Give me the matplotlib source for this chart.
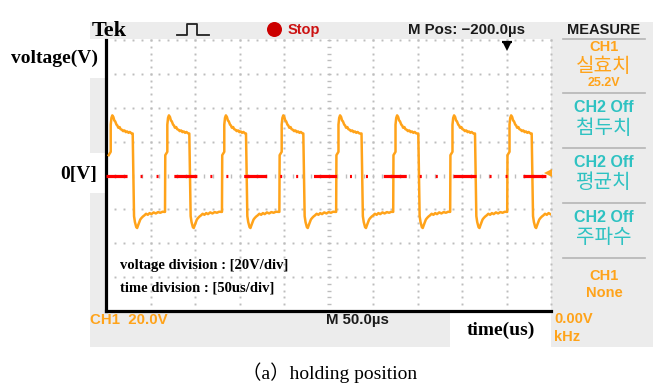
import numpy as np
import matplotlib
matplotlib.use('Agg')
import matplotlib.pyplot as plt
from matplotlib.patches import Rectangle, Circle

plt.rcParams['lines.scale_dashes'] = False

# ---------------- data read from the screen ----------------
# edge times of the CH1 trace (us from left edge of the screen)
rise_us = [5.3, 68.9, 132.9, 197.4, 261.2, 325.3, 389.3, 453.4]
fall_us = [30.0, 93.6, 157.3, 221.7, 287.1, 350.9, 414.6, 478.3]
# shape of the high part after each rising edge (offset us, volts)
high_dt = [-2.6, -2.3, 0.0, 0.0, 0.8, 1.8, 3.0, 4.0, 5.0, 6.5, 7.5, 8.5,
           10.0, 11.0, 12.5, 14.0, 15.5, 17.0, 18.5, 20.0, 21.5, 23.0, 24.0]
high_v = [-21.5, 12.0, 14.0, 30.0, 34.0, 35.5, 34.5, 32.5, 32.0, 30.0, 29.5, 28.2,
          28.6, 27.4, 27.0, 26.2, 26.6, 25.6, 26.0, 25.2, 25.7, 25.0, 24.8]
# shape of the low part after each falling edge (offset us, volts)
low_dt = [0.0, 1.5, 2.5, 4.0, 5.0, 6.0, 7.5, 8.5, 10.0, 11.5, 13.0, 15.0,
          17.0, 19.0, 21.0, 23.5, 26.0, 28.5, 31.0, 33.5]
low_v = [24.8, -24.0, -27.5, -30.5, -31.0, -29.5, -27.5, -26.0, -25.0, -24.2, -23.6, -22.6,
         -23.2, -22.2, -22.8, -21.8, -22.4, -21.6, -22.0, -21.4]
ref_level_v = 0.0
trigger_v = 1.5
volt_per_div = 20
time_per_div = 50
n_hdiv, n_vdiv = 10, 8

t_max = time_per_div * n_hdiv
v_max = volt_per_div * n_vdiv / 2

trace_t, trace_v = [], []
for i, (r, f) in enumerate(zip(rise_us, fall_us)):
    for k, (dt, vv) in enumerate(zip(high_dt, high_v)):
        if i == 0 and k == 0:
            continue
        trace_t.append(r + dt); trace_v.append(vv)
    for dt, vv in zip(low_dt, low_v):
        if f + dt <= t_max:
            trace_t.append(f + dt); trace_v.append(vv)

# ---------------- figure ----------------
W, H = 660, 389
fig = plt.figure(figsize=(W / 100, H / 100), dpi=100)
fig.patch.set_facecolor('white')

bg = fig.add_axes([0, 0, 1, 1], zorder=0)
bg.set_xlim(0, W); bg.set_ylim(H, 0); bg.axis('off')

GREY = '#ECECEC'
ORANGE = '#FFA31A'
TEAL = '#2EC2C2'
SANS = ['Liberation Sans', 'DejaVu Sans']
SERIF = ['Liberation Serif', 'DejaVu Serif']
KR = ['Noto Sans CJK KR', 'DejaVu Sans']

def rect(x0, y0, x1, y1, c=GREY):
    bg.add_patch(Rectangle((x0, y0), x1 - x0, y1 - y0, facecolor=c, edgecolor='none'))

rect(90, 22, 653, 38.5)        # top bar
rect(551, 22, 653, 347)        # right measure panel
rect(90, 78, 106, 153)         # left strip
rect(90, 193, 106, 312)
rect(90, 312, 450, 347)        # bottom bar

# separators in measure panel
for yy in [38.5, 93, 147.5, 202.5, 257.5]:
    bg.plot([563, 645], [yy, yy], color='#B5B5B5', lw=1.2)

# top bar items
bg.text(92, 30.5, 'Tek', family=SERIF, weight='bold', fontsize=16, va='center', ha='left', color='black')
bg.plot([177, 187, 187, 197, 197, 209], [35, 35, 24, 24, 35, 35], color='#222222', lw=1.3)
bg.add_patch(Circle((274.5, 29.5), 7.5, facecolor='#CC0000', edgecolor='none'))
bg.text(288, 30, 'Stop', family=SANS, weight='bold', fontsize=10.5, color='#CC1111', va='center', ha='left')
bg.text(408, 30, 'M Pos: \u2212200.0\u00b5s', family=SANS, weight='bold', fontsize=10.8,
        color='#1a1a1a', va='center', ha='left')
bg.text(604, 29.5, 'MEASURE', family=SANS, weight='bold', fontsize=10.5, color='#1a1a1a',
        va='center', ha='center')

# measure panel texts
panel = [
    ('CH1', 47, ORANGE, SANS, 10.5),
    ('실효치', 66.5, ORANGE, KR, 14.5),
    ('25.2V', 82.5, ORANGE, SANS, 9.0),
    ('CH2 Off', 107, TEAL, SANS, 11.5),
    ('첨두치', 129, TEAL, KR, 14.5),
    ('CH2 Off', 162, TEAL, SANS, 11.5),
    ('평균치', 182, TEAL, KR, 14.5),
    ('CH2 Off', 217, TEAL, SANS, 11.5),
    ('주파수', 237, TEAL, KR, 14.5),
    ('CH1', 276, ORANGE, SANS, 10.5),
    ('None', 293, ORANGE, SANS, 10.5),
]
for s, yy, c, fam, fs in panel:
    w = 'medium' if fam is KR else 'bold'
    bg.text(604, yy, s, family=fam, fontsize=fs, color=c, weight=w, ha='center', va='center')

# bottom bar texts
bg.text(90, 320, 'CH1  20.0V', family=SANS, weight='bold', fontsize=10.8, color=ORANGE, ha='left', va='center')
bg.text(326, 320, 'M 50.0\u00b5s', family=SANS, weight='bold', fontsize=10.8, color='#1a1a1a', ha='left', va='center')
bg.text(554, 319, '0.00V', family=SANS, weight='bold', fontsize=10.5, color=ORANGE, ha='left', va='center')
bg.text(554, 337, 'kHz', family=SANS, weight='bold', fontsize=10.5, color=ORANGE, ha='left', va='center')

# axis labels
bg.text(98, 58, 'voltage(V)', family=SERIF, weight='bold', fontsize=14, ha='right', va='center')
bg.text(97, 174, '0[V]', family=SERIF, weight='bold', fontsize=14, ha='right', va='center')
bg.text(501, 330, 'time(us)', family=SERIF, weight='bold', fontsize=14, ha='center', va='center')
bg.text(330, 373, '（a）holding position', family=['Liberation Serif', 'Noto Sans CJK KR'],
        fontsize=14, ha='center', va='center')

# ---------------- scope screen ----------------
ax = fig.add_axes([106 / W, 1 - 311 / H, 445 / W, 271 / H], zorder=2)
ax.set_facecolor('white')
ax.set_xlim(0, t_max)
ax.set_ylim(-v_max, v_max)
ax.set_xticks([]); ax.set_yticks([])
for s in ['top', 'right']:
    ax.spines[s].set_visible(False)
for s in ['left', 'bottom']:
    ax.spines[s].set_linewidth(2.3)
    ax.spines[s].set_color('black')
    ax.spines[s].set_capstyle('projecting')

DOT = '#BDBDBD'
minor_v = np.arange(-v_max, v_max + 0.01, volt_per_div / 5)
minor_t = np.arange(0, t_max + 0.01, time_per_div / 5)
# vertical grid lines
for k in range(1, n_hdiv + 1):
    x = k * time_per_div
    if k == n_hdiv // 2:
        ax.plot(np.full_like(minor_v, x), minor_v, ls='none', marker='_', ms=3.5,
                mew=1.0, color=DOT, zorder=1)
    else:
        ax.plot(np.full_like(minor_v, x), minor_v, ls='none', marker='s', ms=1.4,
                mew=0, color=DOT, zorder=1, clip_on=False)
# horizontal grid lines incl. top border
for k in range(-n_vdiv // 2 + 1, n_vdiv // 2 + 1):
    y = k * volt_per_div
    if k == 0:
        ax.plot(minor_t, np.full_like(minor_t, y), ls='none', marker='|', ms=3.5,
                mew=1.0, color=DOT, zorder=1)
    else:
        ax.plot(minor_t, np.full_like(minor_t, y), ls='none', marker='s', ms=1.4,
                mew=0, color=DOT, zorder=1, clip_on=False)

# trace
ax.plot(trace_t, trace_v, color=ORANGE, lw=1.8, zorder=3, solid_joinstyle='round')

# trigger level marker
ax.plot([t_max - 3.5], [trigger_v], marker='<', ms=6, color=ORANGE, mew=0, zorder=3, clip_on=False)

# zero reference dash-dot
ln = ax.axhline(ref_level_v, color='#FF0000', lw=2.3, zorder=4,
                linestyle=(1.4, (16.56, 9.36, 1.44, 10.08, 1.44, 11.38)))
ln.set_dash_capstyle('butt')

# trigger position arrow
trig_pos = 450.6
ax.plot([trig_pos], [79.0], marker='_', ms=7, mew=1.6, color='black', zorder=5, clip_on=False)
ax.plot([trig_pos], [76.0], marker='v', ms=6, mew=0, color='black', zorder=5, clip_on=False)

# annotations inside screen
ax.text(15.7, -53.1, 'voltage division : [20V/div]', family=SERIF, weight='bold',
        fontsize=10.5, ha='left', va='center', zorder=6)
ax.text(15.7, -66.7, 'time division : [50us/div]', family=SERIF, weight='bold',
        fontsize=10.5, ha='left', va='center', zorder=6)

fig.savefig('out.png', dpi=100, facecolor='white')
